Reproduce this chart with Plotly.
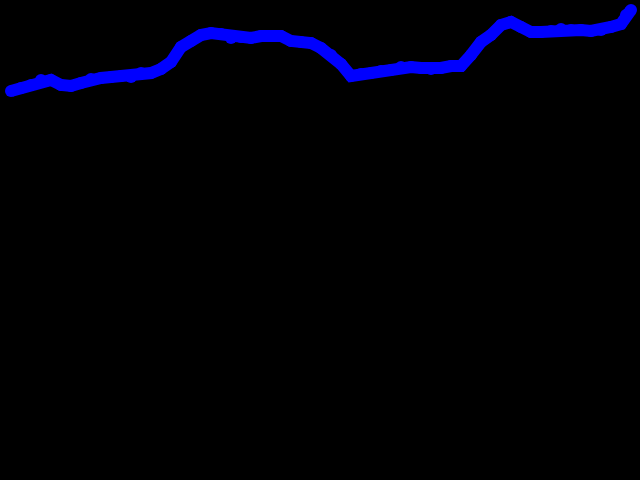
import plotly.graph_objects as go

# Series values (one point per step)
values = [9, 12, 15, 20, 20, 15, 14, 17, 21, 22, 23, 24, 23, 27, 27, 31, 38, 53, 59, 65,
          67, 66, 62, 63, 62, 64, 64, 64, 59, 58, 57, 52, 45, 36, 24, 26, 27, 29, 30, 33,
          33, 32, 31, 32, 34, 34, 45, 58, 65, 75, 78, 73, 68, 68, 69, 71, 70, 70, 69, 70,
          73, 76, 85, 90]
steps = list(range(61)) + [61.0, 61.5, 62.0]

fig = go.Figure()
fig.add_trace(go.Scatter(
    x=steps, y=values, mode="lines+markers",
    line=dict(color="#0000ff", width=12),
    marker=dict(color="#0000ff", size=12),
    hoverinfo="skip",
))

fig.update_layout(
    width=640, height=480,
    margin=dict(l=0, r=0, t=0, b=0),
    paper_bgcolor="black", plot_bgcolor="black",
    showlegend=False,
    xaxis=dict(visible=False, range=[-1.1, 62.9]),
    yaxis=dict(visible=False, range=[-380, 100]),
)

fig.write_html(
    "out.html",
    config={"displayModeBar": False},
    post_script="document.body.style.margin='0';document.body.style.background='black';",
)
